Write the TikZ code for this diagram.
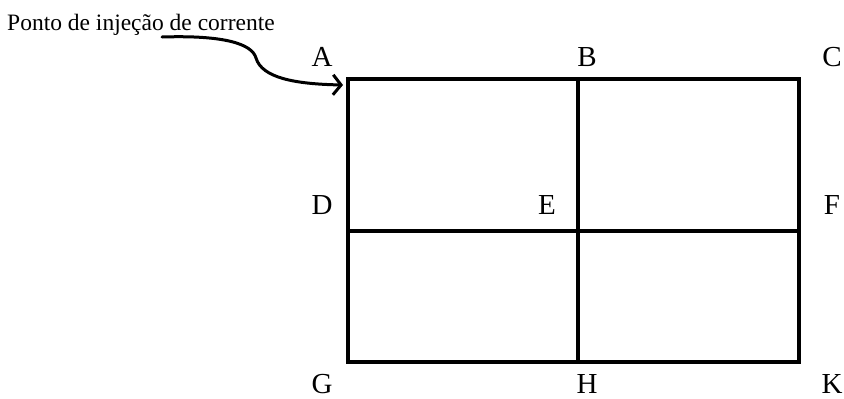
\documentclass[tikz,border=0pt]{standalone}
\usepackage{fontspec}
\setmainfont{Liberation Serif}
\usetikzlibrary{arrows.meta}
\begin{document}
\begin{tikzpicture}[x=1pt,y=-1pt,
  grid/.style={line width=3.3pt,line cap=rect,black},
  lbl/.style={anchor=base,font=\fontsize{29}{30}\selectfont,inner sep=0pt},
  pointer/.style={line width=3pt,line cap=round,-{Straight Barb[length=8pt,width=20pt,line width=3pt]}}]
\useasboundingbox (0,0) rectangle (844,399);
% grid points
\coordinate (a) at (348,79);
\coordinate (b) at (578,79);
\coordinate (c) at (799,79);
\coordinate (d) at (348,231);
\coordinate (e) at (578,231);
\coordinate (f) at (799,231);
\coordinate (g) at (348,362);
\coordinate (h) at (578,362);
\coordinate (k) at (799,362);
% lines
\draw[grid] (a) -- (c) -- (k) -- (g) -- cycle;
\draw[grid] (d) -- (f);
\draw[grid] (b) -- (h);
% labels
\node[lbl] (la) at (322,66) {A};
\node[lbl] (lb) at (587,66) {B};
\node[lbl] (lc) at (832,66) {C};
\node[lbl] (ld) at (322,214) {D};
\node[lbl] (le) at (547,214) {E};
\node[lbl] (lf) at (832,214) {F};
\node[lbl] (lg) at (322,393) {G};
\node[lbl] (lh) at (587,393) {H};
\node[lbl] (lk) at (832,393) {K};
% caption
\node[anchor=base west,inner sep=0pt,font=\fontsize{23.5}{24}\selectfont] (txt) at (7,30) {Ponto de injeção de corrente};
\coordinate (s) at (162,37);
\coordinate (t) at (343,85);
\draw[pointer] (s) .. controls (225,35) and (252,44) .. (256,58)
  .. controls (262,78) and (295,84) .. (t);
\end{tikzpicture}
\end{document}
